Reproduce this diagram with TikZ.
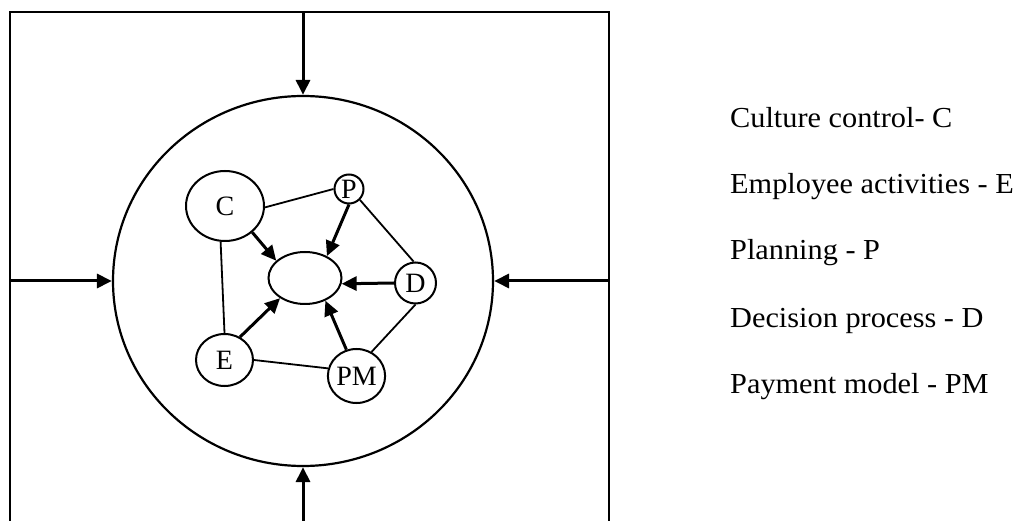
\documentclass[tikz,border=0pt]{standalone}
\usepackage{fontspec}
\setmainfont{Liberation Serif}
\newfontfamily\lgfont[FakeStretch=1.045]{Liberation Serif}
\usetikzlibrary{arrows.meta,shapes.geometric}
\begin{document}
\begin{tikzpicture}[x=1pt,y=-1pt,
  nd/.style={draw,ellipse,line width=2pt,inner sep=0pt,font=\fontsize{28}{32}\selectfont},
  ln/.style={line width=1.8pt},
  arr/.style={line width=3pt,-{Triangle[length=15pt,width=14pt]}},
  frame/.style={line width=2.8pt},
  lg/.style={anchor=base west,inner sep=0pt,font=\lgfont\fontsize{29}{34}\selectfont}]
\useasboundingbox (0,0) rectangle (1015,521);
% frame
\draw[frame] (10,521) -- (10,12) -- (609,12) -- (609,521);
% big circle
\node[draw,ellipse,line width=2.2pt,minimum width=380pt,minimum height=370pt] (big) at (303,281) {};
\coordinate (tT) at (303,12);
\coordinate (bT) at (303,521);
\coordinate (lT) at (10,281);
\coordinate (rT) at (609,281);
\draw[arr] (tT) -- (big.north);
\draw[arr] (bT) -- (big.south);
\draw[arr] (lT) -- (big.west);
\draw[arr] (rT) -- (big.east);
% inner nodes
\node[nd,minimum width=78pt,minimum height=70pt] (C) at (225,206) {C};
\node[nd,circle,minimum size=29pt] (P) at (349,189) {P};
\node[nd,minimum width=73pt,minimum height=52pt] (M) at (305,278) {};
\node[nd,circle,minimum size=41pt] (D) at (415.5,283) {D};
\node[nd,minimum width=57pt,minimum height=52pt] (E) at (224.5,360) {E};
\node[nd,minimum width=57pt,minimum height=54pt] (PM) at (356.5,376) {PM};
% plain links
\draw[ln] (C.-2) -- (P.180);
\draw[ln] (C.-97) -- (E.north);
\draw[ln] (P.-45) -- (D.95);
\draw[ln] (D.south) -- (PM.58);
\draw[ln] (E.east) -- (PM.165);
% arrows into centre
\draw[arr] (C.-44) -- (M.149);
\draw[arr] (P.south) -- (M.45);
\draw[arr] (D.west) -- (M.-9);
\draw[arr] (E.56) -- (M.219);
\draw[arr] (PM.111) -- (M.-48);
% legend
\node[lg] (l1) at (730,128) {Culture control- C};
\node[lg] (l2) at (730,194) {Employee activities - E};
\node[lg] (l3) at (730,260) {Planning - P};
\node[lg] (l4) at (730,327) {Decision process - D};
\node[lg] (l5) at (730,393) {Payment model - PM};
\end{tikzpicture}
\end{document}
